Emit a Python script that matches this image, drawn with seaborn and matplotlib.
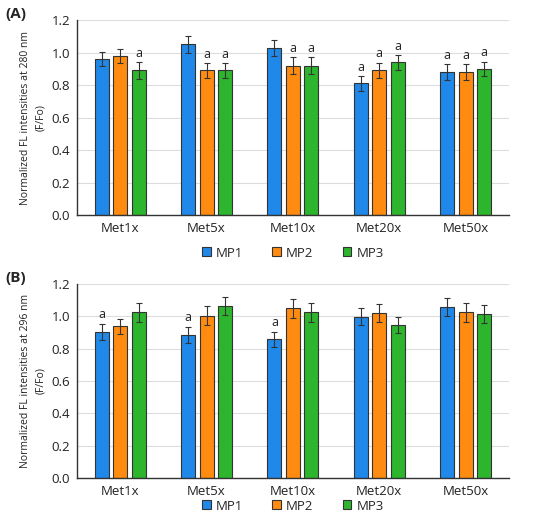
import numpy as np
import pandas as pd
import seaborn as sns
import matplotlib
matplotlib.use("Agg")
import matplotlib.pyplot as plt

categories = ["Met1x", "Met5x", "Met10x", "Met20x", "Met50x"]
series = ["MP1", "MP2", "MP3"]

# Panel A (280 nm)
a_mp1 = [0.96, 1.05, 1.03, 0.81, 0.88]
a_mp2 = [0.98, 0.89, 0.92, 0.89, 0.88]
a_mp3 = [0.89, 0.89, 0.92, 0.94, 0.90]
a_err1 = [0.045, 0.055, 0.05, 0.045, 0.047]
a_err2 = [0.045, 0.045, 0.05, 0.047, 0.047]
a_err3 = [0.05, 0.045, 0.05, 0.045, 0.045]
a_sig1 = ["", "", "", "a", "a"]
a_sig2 = ["", "a", "a", "a", "a"]
a_sig3 = ["a", "a", "a", "a", "a"]

# Panel B (296 nm)
b_mp1 = [0.905, 0.887, 0.858, 0.998, 1.06]
b_mp2 = [0.938, 1.004, 1.049, 1.019, 1.025]
b_mp3 = [1.025, 1.066, 1.025, 0.948, 1.016]
b_err1 = [0.05, 0.05, 0.047, 0.051, 0.055]
b_err2 = [0.048, 0.058, 0.058, 0.057, 0.057]
b_err3 = [0.057, 0.056, 0.057, 0.05, 0.056]
b_sig1 = ["a", "a", "a", "", ""]
b_sig2 = ["", "", "", "", ""]
b_sig3 = ["", "", "", "", ""]

colors = ["#1F88E8", "#FF8C10", "#2DB52D"]

sns.set_style("white")
plt.rcParams["font.family"] = ["Open Sans", "DejaVu Sans"]

fig = plt.figure(figsize=(5.5, 5.15), dpi=100)
ax1 = fig.add_axes([0.14, 0.5825, 0.785, 0.3785])
ax2 = fig.add_axes([0.14, 0.072, 0.785, 0.3765])


def draw(ax, vals, errs, sigs, label, ylab, legend_y):
    rows = []
    for s, v, e, g in zip(series, vals, errs, sigs):
        for c, vv, ee, gg in zip(categories, v, e, g):
            rows.append({"cat": c, "series": s, "value": vv, "err": ee, "sig": gg})
    df = pd.DataFrame(rows)
    sns.barplot(data=df, x="cat", y="value", hue="series", order=categories,
                hue_order=series, palette=colors, saturation=1, width=0.64,
                gap=0.24, errorbar=None, edgecolor="#333333", linewidth=0.8,
                ax=ax, legend=True)
    for cont, s in zip(ax.containers, series):
        sub = df[df["series"] == s].set_index("cat").loc[categories]
        xs = [p.get_x() + p.get_width() / 2 for p in cont.patches]
        hs = [p.get_height() for p in cont.patches]
        ax.errorbar(xs, hs, yerr=sub["err"].values, fmt="none",
                    ecolor="#333333", elinewidth=0.8, capsize=2.2, capthick=0.8)
        for x, h, e, g in zip(xs, hs, sub["err"].values, sub["sig"].values):
            if g:
                ax.text(x, h + e + 0.015, g, ha="center", va="bottom",
                        fontsize=9, color="#222222")
    ax.set_ylim(0, 1.2)
    ax.set_yticks(np.arange(0, 1.21, 0.2))
    ax.set_yticklabels([f"{t:.1f}" for t in np.arange(0, 1.21, 0.2)])
    ax.set_xlim(-0.5, 4.5)
    ax.yaxis.grid(True, color="#DDDDDD", linewidth=0.8)
    ax.set_axisbelow(True)
    for sp in ["top", "right"]:
        ax.spines[sp].set_visible(False)
    for sp in ["left", "bottom"]:
        ax.spines[sp].set_color("#333333")
        ax.spines[sp].set_linewidth(1.0)
    ax.tick_params(axis="both", labelsize=9.5, length=0, pad=5, colors="#222222")
    ax.set_xlabel("")
    ax.set_ylabel(ylab, fontsize=7.5, color="#222222", linespacing=1.5)
    ax.legend(loc="center", bbox_to_anchor=(0.5, legend_y), ncol=3,
              frameon=False, fontsize=9.5, handlelength=0.65, handleheight=0.65,
              columnspacing=2.2, handletextpad=0.4, borderpad=0.1)
    ax.text(-0.165, 1.03, label, transform=ax.transAxes, fontsize=11,
            fontweight="bold", va="center", ha="left")


draw(ax1, [a_mp1, a_mp2, a_mp3], [a_err1, a_err2, a_err3],
     [a_sig1, a_sig2, a_sig3], "(A)",
     "Normalized FL intensities at 280 nm\n(F/Fo)", -0.195)
draw(ax2, [b_mp1, b_mp2, b_mp3], [b_err1, b_err2, b_err3],
     [b_sig1, b_sig2, b_sig3], "(B)",
     "Normalized FL intensities at 296 nm\n(F/Fo)", -0.145)

fig.savefig("out.png", dpi=100)
